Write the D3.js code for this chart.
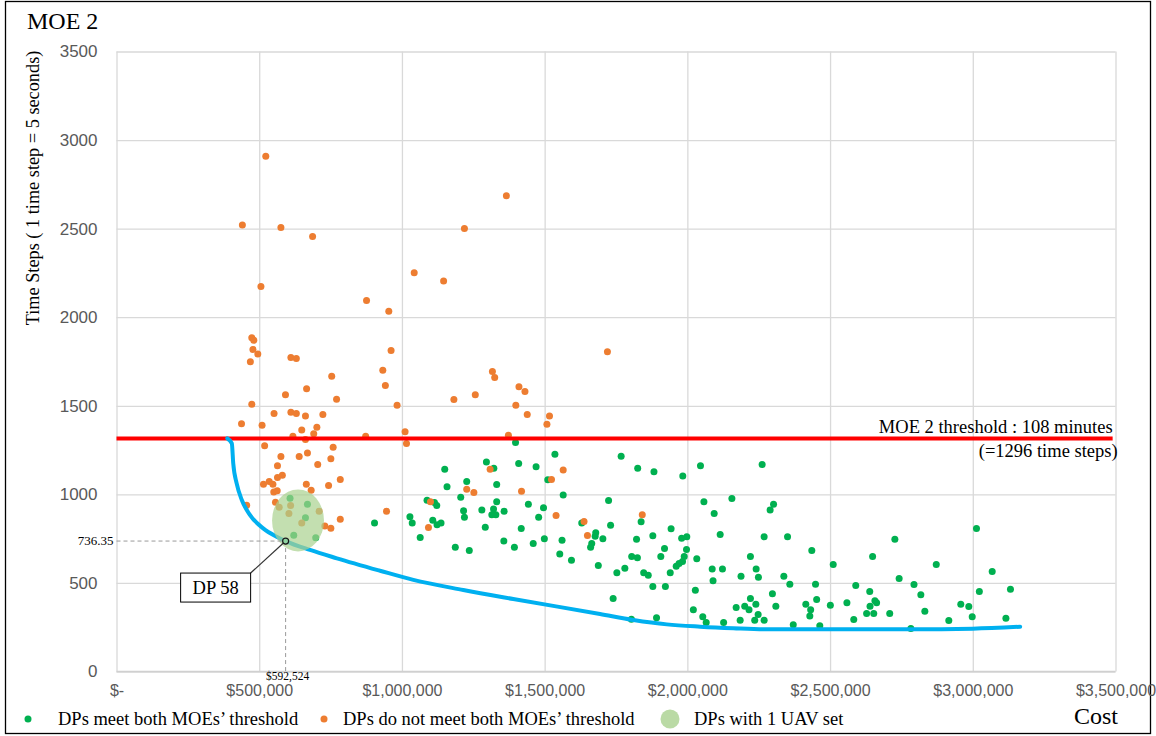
<!DOCTYPE html>
<html>
<head>
<meta charset="utf-8">
<script src="https://cdn.jsdelivr.net/npm/d3@7"></script>
<style>
  body { margin: 0; background: white; }
  text { font-family: "Liberation Serif", "Times New Roman", serif; }
  .tick text { font-family: "Liberation Sans", Arial, sans-serif; fill: #595959; }
</style>
</head>
<body>
<div id="canvas"></div>
<script>
// data: [cost ($), time steps]
const metPoints = [
  [608000,978],[669000,944],[662000,868],[621000,769],[698000,755],[904000,839],
  [1398000,1293],[1536000,1227],[1768000,1215],
  [1296000,1182],[1322000,1148],[1409000,1174],[1470000,1156],[1150000,1142],[1227000,1072],
  [1158000,1043],[1332000,1056],[1511000,1082],[1206000,984],[1565000,997],[1088000,967],
  [1114000,954],[1122000,937],[1332000,958],[1280000,912],[1216000,907],[1219000,871],
  [1321000,918],[1315000,885],[1329000,885],[1358000,905],[1443000,944],[1496000,924],
  [1479000,871],[1724000,965],[1028000,873],[1036000,839],[1108000,854],[1123000,828],
  [1137000,839],[1292000,815],[1418000,807],[1630000,839],[1731000,826],[1064000,756],
  [1187000,702],[1236000,683],[1357000,736],[1394000,702],[1460000,723],[1499000,749],
  [1561000,741],[1553000,664],[1594000,628],[1679000,783],[1677000,764],[1665000,723],
  [1661000,702],[1704000,749],[1688000,598],[1753000,557],[1740000,412],
  [1826000,1148],[1883000,1127],[1984000,1103],[2046000,1161],[2262000,1168],[2058000,958],
  [2156000,977],[2302000,944],[2290000,911],[2094000,892],[1838000,845],[1943000,806],
  [1822000,747],[1879000,766],[1980000,752],[1998000,760],[2115000,773],[2269000,760],
  [2351000,760],[1920000,694],[1997000,689],[1805000,649],[1825000,642],[1907000,649],
  [1989000,649],[1983000,621],[1971000,610],[1961000,594],[2033000,636],[2221000,649],
  [2436000,683],[2511000,604],[1781000,583],[1847000,557],[1863000,544],[1940000,557],
  [2087000,578],[2123000,578],[2090000,512],[2241000,578],[2249000,532],[2188000,538],
  [2338000,538],[2359000,493],[2449000,493],[1879000,480],[1923000,480],[2028000,459],
  [2298000,439],[2221000,412],[2240000,380],[2201000,369],[2216000,348],[2171000,361],
  [2310000,369],[2415000,380],[2453000,406],[2432000,348],[2429000,314],[2501000,374],
  [2021000,348],[2054000,309],[2066000,277],[2248000,322],[2236000,290],[2269000,290],
  [2185000,290],[2127000,277],[2371000,264],[2464000,258],[1892000,303],[1804000,295],
  [3013000,807],[2727000,747],[2649000,649],[2872000,604],[3068000,565],[2742000,525],
  [2590000,485],[2794000,491],[2639000,452],[2818000,433],[3023000,452],[3132000,465],
  [2559000,388],[2640000,369],[2663000,388],[2657000,399],[2628000,327],[2653000,327],
  [2709000,327],[2832000,340],[2958000,380],[2986000,367],[2998000,309],[2583000,294],
  [2916000,288],[3116000,301],[2783000,243]
];

const notMetPoints = [
  [523000,2909],[441000,2520],[576000,2506],[687000,2456],[506000,2173],[876000,2094],
  [954000,2034],[474000,1884],[481000,1870],[478000,1818],[495000,1793],[469000,1748],
  [611000,1773],[630000,1767],[962000,1812],[933000,1701],[942000,1615],[754000,1667],
  [666000,1596],[592000,1562],[771000,1537],[983000,1503],[474000,1509],[552000,1456],
  [611000,1464],[630000,1456],[662000,1443],[723000,1451],[438000,1398],[510000,1390],
  [649000,1364],[702000,1379],[691000,1342],[618000,1328],[662000,1310],[873000,1328],
  [519000,1274],[576000,1214],[669000,1234],[640000,1214],[759000,1266],[751000,1201],
  [705000,1168],[564000,1161],[784000,1084],[564000,1095],[581000,1108],[743000,1050],
  [665000,1057],[515000,1057],[535000,1073],[548000,1057],[551000,1014],[563000,1020],
  [682000,1023],[456000,939],[557000,956],[570000,927],[610000,937],[604000,892],
  [710000,905],[649000,839],[784000,860],[730000,822],[751000,809],[946000,905],
  [1366000,2685],[1219000,2501],[1043000,2251],[1146000,2205],[1720000,1805],[1317000,1694],
  [1325000,1660],[1182000,1535],[1257000,1562],[1410000,1607],[1431000,1581],[1399000,1503],
  [1439000,1451],[1517000,1443],[1508000,1396],[1011000,1353],[1016000,1287],[1373000,1334],
  [1309000,1142],[1565000,1137],[1524000,1084],[1227000,1029],[1252000,1010],[1419000,1018],
  [1100000,958],[1093000,813],[1540000,881],[1638000,847],[1650000,768],[1842000,885]
];

// pareto front (blue curve)
const frontCost = [388000,404000,409000,421000,439000,468000,514000,561000,592524,678000,772000,923000,
  1040000,1215000,1390000,1694000,1811000,1928000,2045000,2161000,2278000,2535000,2780000,3000000,3166000];
const frontTime = [1316,1288,1175,1062,968,883,808,761,736.35,686,639,569,
  517,460,409,325,291,266,253,244,238,238,238,242,253];

const thresholdTime = 1316;           // drawn position of the MOE 2 threshold line
const thresholdSpan = [0, 3490000];
const dp58 = {name: "DP 58", cost: 592524, time: 736.35};
const uavSet = {cost: 636000, time: 853, rCost: 91000, rTime: 175};

const xTicks = [0,500000,1000000,1500000,2000000,2500000,3000000,3500000];
const yTicks = [0,500,1000,1500,2000,2500,3000,3500];

const colours = {met: "#00b050", notMet: "#ed7d31", front: "#00b0f0", threshold: "#ff0000", uav: "#a9d18e"};

// canvas
const W = 1156, H = 736;
const margin = {top: 51.5, right: 40.5, bottom: 64.5, left: 116.5},
  width = W - margin.left - margin.right,
  height = H - margin.top - margin.bottom;

const svg = d3.select("#canvas").append("svg")
  .attr("width", W)
  .attr("height", H);

svg.append("rect")
  .attr("x", 5.5).attr("y", 1.5)
  .attr("width", 1145).attr("height", 732)
  .attr("fill", "white")
  .attr("stroke", "#000")
  .attr("stroke-width", 1.3);

const g = svg.append("g")
  .attr("transform", "translate(" + margin.left + "," + margin.top + ")");

const x = d3.scaleLinear().domain([0, 3500000]).range([0, width]);
const y = d3.scaleLinear().domain([0, 3500]).range([height, 0]);

// gridlines
g.append("g")
  .call(d3.axisLeft(y).tickValues(yTicks).tickSize(-width).tickFormat(""))
  .call(a => a.select(".domain").remove())
  .selectAll("line").attr("stroke", "#d9d9d9").attr("stroke-width", 1.3);
g.append("g")
  .attr("transform", "translate(0," + height + ")")
  .call(d3.axisBottom(x).tickValues(xTicks).tickSize(-height).tickFormat(""))
  .call(a => a.select(".domain").remove())
  .selectAll("line").attr("stroke", "#d9d9d9").attr("stroke-width", 1.3);
g.append("line")
  .attr("x1", 0).attr("x2", width)
  .attr("y1", height).attr("y2", height)
  .attr("stroke", "#d0d0d0").attr("stroke-width", 1.5);

// axes labels
g.append("g")
  .call(d3.axisLeft(y).tickValues(yTicks).tickSize(0).tickPadding(19).tickFormat(d3.format("d")))
  .call(a => a.select(".domain").remove())
  .selectAll("text").attr("font-size", 17);
g.append("g")
  .attr("transform", "translate(0," + height + ")")
  .call(d3.axisBottom(x).tickValues(xTicks).tickSize(0).tickPadding(13)
    .tickFormat(d => d === 0 ? "$-" : "$" + d3.format(",")(d)))
  .call(a => a.select(".domain").remove())
  .selectAll("text").attr("font-size", 16);

// points
g.selectAll(".met")
  .data(metPoints)
  .join("circle")
  .attr("class", "met")
  .attr("cx", d => x(d[0]))
  .attr("cy", d => y(d[1]))
  .attr("r", 3.5)
  .attr("fill", colours.met);

g.selectAll(".notmet")
  .data(notMetPoints)
  .join("circle")
  .attr("class", "notmet")
  .attr("cx", d => x(d[0]))
  .attr("cy", d => y(d[1]))
  .attr("r", 3.5)
  .attr("fill", colours.notMet);

// threshold line
g.append("line")
  .attr("x1", x(thresholdSpan[0])).attr("x2", x(thresholdSpan[1]))
  .attr("y1", y(thresholdTime)).attr("y2", y(thresholdTime))
  .attr("stroke", colours.threshold)
  .attr("stroke-width", 4);

g.append("text")
  .attr("x", x(thresholdSpan[1]))
  .attr("y", y(thresholdTime) - 5)
  .attr("text-anchor", "end")
  .attr("font-size", 18.5)
  .text("MOE 2 threshold : 108 minutes");
g.append("text")
  .attr("x", x(thresholdSpan[1]) + 5)
  .attr("y", y(thresholdTime) + 19)
  .attr("text-anchor", "end")
  .attr("font-size", 18.5)
  .text("(=1296 time steps)");

// pareto front
g.append("path")
  .datum(d3.zip(frontCost, frontTime))
  .attr("fill", "none")
  .attr("stroke", colours.front)
  .attr("stroke-width", 4)
  .attr("stroke-linecap", "round")
  .attr("d", d3.line()
    .curve(d3.curveMonotoneX)
    .x(d => x(d[0]))
    .y(d => y(d[1])));

// 1 UAV set highlight
g.append("ellipse")
  .attr("cx", x(uavSet.cost))
  .attr("cy", y(uavSet.time))
  .attr("rx", x(uavSet.rCost) - x(0))
  .attr("ry", y(0) - y(uavSet.rTime))
  .attr("fill", colours.uav)
  .attr("opacity", 0.7);

// DP 58 annotation
const px = x(dp58.cost), py = y(dp58.time);
g.append("line")
  .attr("x1", 0).attr("x2", px)
  .attr("y1", py).attr("y2", py)
  .attr("stroke", "#999").attr("stroke-width", 1)
  .attr("stroke-dasharray", "4,3");
g.append("line")
  .attr("x1", px).attr("x2", px)
  .attr("y1", py).attr("y2", height + 2)
  .attr("stroke", "#999").attr("stroke-width", 1)
  .attr("stroke-dasharray", "4,3");
g.append("text")
  .attr("x", -3).attr("y", py + 4)
  .attr("text-anchor", "end")
  .attr("font-size", 13)
  .text(d3.format(".2f")(dp58.time));
g.append("text")
  .attr("x", px + 2).attr("y", height + 8)
  .attr("text-anchor", "middle")
  .attr("font-size", 11.5)
  .text("$" + d3.format(",")(dp58.cost));

const box = {x: px - 105, y: py + 32, w: 70, h: 29};
g.append("line")
  .attr("x1", box.x + box.w).attr("y1", box.y)
  .attr("x2", px).attr("y2", py)
  .attr("stroke", "#333").attr("stroke-width", 1.2);
g.append("circle")
  .attr("cx", px).attr("cy", py).attr("r", 3)
  .attr("fill", "#8fd3a0")
  .attr("stroke", "#1a1a1a").attr("stroke-width", 1.2);
g.append("rect")
  .attr("x", box.x).attr("y", box.y)
  .attr("width", box.w).attr("height", box.h)
  .attr("fill", "white")
  .attr("stroke", "#000").attr("stroke-width", 1);
g.append("text")
  .attr("x", box.x + box.w / 2).attr("y", box.y + 20.5)
  .attr("text-anchor", "middle")
  .attr("font-size", 18.5)
  .text(dp58.name);

// titles
svg.append("text")
  .attr("x", 27).attr("y", 29)
  .attr("font-size", 24)
  .text("MOE 2");
svg.append("text")
  .attr("transform", "translate(39,188) rotate(-90)")
  .attr("text-anchor", "middle")
  .attr("font-size", 18.3)
  .text("Time Steps ( 1 time step = 5 seconds)");
svg.append("text")
  .attr("x", 1074).attr("y", 724)
  .attr("font-size", 24)
  .text("Cost");

// legend
const legendItems = [
  {label: "DPs meet both MOEs\u2019 threshold", colour: colours.met, r: 3.5, x: 28, dx: 30},
  {label: "DPs do not meet both MOEs\u2019 threshold", colour: colours.notMet, r: 3.5, x: 324, dx: 19},
  {label: "DPs with 1 UAV set", colour: colours.uav, r: 9.5, x: 670, dx: 24}
];
const legend = svg.selectAll(".legend")
  .data(legendItems)
  .join("g")
  .attr("class", "legend")
  .attr("transform", d => "translate(" + d.x + ",719)");
legend.append("circle")
  .attr("r", d => d.r)
  .attr("fill", d => d.colour)
  .attr("opacity", d => d.r > 5 ? 0.8 : 1);
legend.append("text")
  .attr("x", d => d.dx)
  .attr("y", 6)
  .attr("font-size", 18.5)
  .text(d => d.label);
</script>
</body>
</html>
